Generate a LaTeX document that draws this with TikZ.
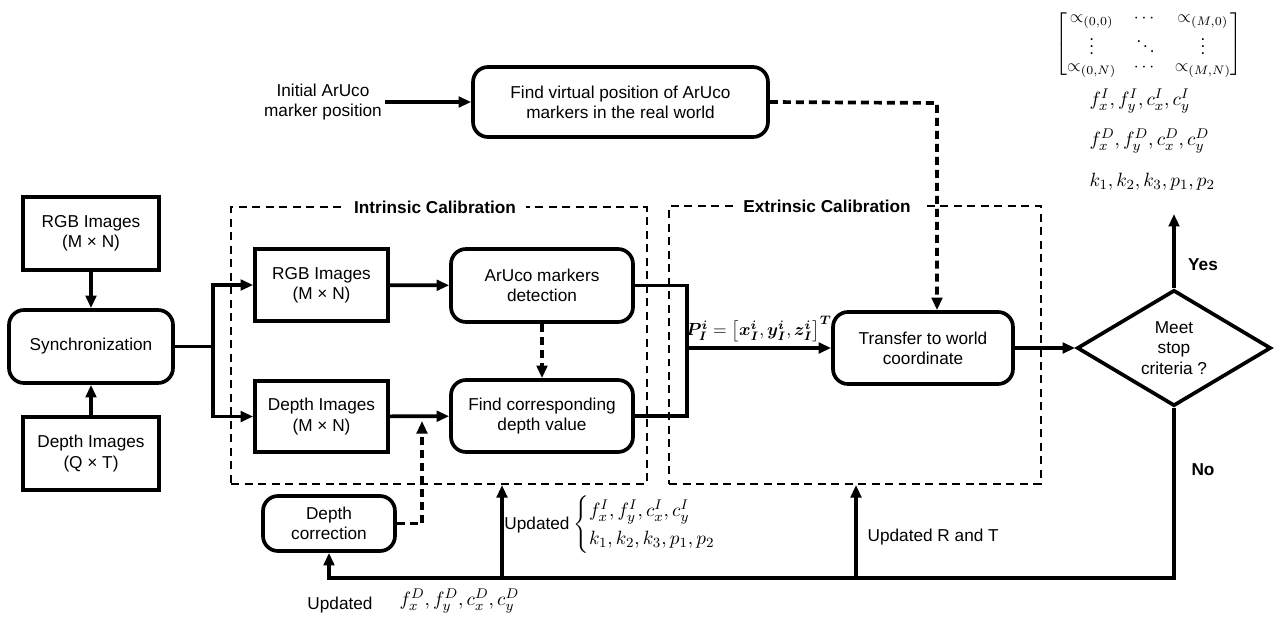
\documentclass[tikz,border=0pt]{standalone}
\usepackage[no-math]{fontspec}
\setmainfont{Liberation Sans}
\usepackage{amsmath}
\usetikzlibrary{arrows.meta,shapes.geometric}

\tikzset{
  box/.style={draw, line width=2.1pt, minimum width=2.72cm, minimum height=1.46cm},
  rbox/.style={box, rounded corners=0.3cm},
  grp/.style={draw, line width=1.2pt, dash pattern=on 1.6mm off 1.1mm},
  flow/.style={line width=2.1pt, -{Triangle[length=2.5mm,width=2.1mm]}},
  dflow/.style={flow, dash pattern=on 1.6mm off 1mm},
  mth/.style={font=\fontsize{11}{13}\selectfont},
  ttl/.style={font=\fontsize{9.8}{11.5}\selectfont\bfseries, fill=white, inner xsep=6pt}
}

\begin{document}
\begin{tikzpicture}[x=0.02cm,y=-0.02cm, line width=2.1pt,
    every node/.style={font=\fontsize{9.8}{11.5}\selectfont, align=center, inner sep=1pt}]
  \useasboundingbox (0,0) rectangle (1275,622);

  \node[grp, minimum width=8.32cm, minimum height=5.54cm] (intr) at (439,345.5) {};
  \node[grp, minimum width=7.44cm, minimum height=5.56cm] (extr) at (855,345) {};
  \node[ttl] (intrT) at (435,207) {Intrinsic Calibration};
  \node[ttl] (extrT) at (827,206) {Extrinsic Calibration};

  \node[box] (rgb) at (91,233.5) {RGB Images\\(M × N)};
  \node[rbox, minimum width=3.28cm] (sync) at (91,346.5) {Synchronization};
  \node[box] (depth) at (91,453.5) {Depth Images\\(Q × T)};
  \node[box, minimum width=2.66cm, minimum height=1.44cm] (rgbB) at (321.5,285) {RGB Images\\(M × N)};
  \node[box, minimum width=2.66cm, minimum height=1.42cm] (depthB) at (321.5,416.5) {Depth Images\\(M × N)};
  \node[rbox, minimum width=3.64cm] (detect) at (542,285.5) {ArUco markers\\detection};
  \node[rbox, minimum width=3.64cm, minimum height=1.44cm] (findd) at (542,416) {Find corresponding\\depth value};
  \node (init) at (323,102) {Initial ArUco\\marker position};
  \node[rbox, minimum width=5.9cm, minimum height=1.4cm] (virt) at (620.5,102) {Find virtual position of ArUco\\markers in the real world};
  \node[rbox, minimum width=3.6cm, minimum height=1.44cm] (transfer) at (923,348) {Transfer to world\\coordinate};
  \node[draw, diamond, aspect=1.67, minimum width=3.88cm, minimum height=2.32cm, inner sep=0pt, line width=2.1pt] (stop) at (1174,348) {Meet\\stop\\criteria ?};
  \node[rbox, minimum width=2.64cm, minimum height=1.1cm] (dcorr) at (329,523.5) {Depth\\correction};

  \coordinate (split) at (213,346.5);
  \coordinate (mrg) at (687,348);
  \coordinate (vdrop) at (937,103);
  \coordinate (dtip) at (422,421);
  \coordinate (yes) at (1174,214);
  \coordinate (fbR) at (1174,578);
  \coordinate (fbA) at (502,578);
  \coordinate (fbB) at (856,578);

  \draw[flow] (rgb) -- (sync);
  \draw[flow] (depth) -- (sync);
  \draw (sync.east) -- (split);
  \draw[flow] (split) |- (rgbB.west);
  \draw[flow] (split) |- (depthB.west);
  \draw[flow] (rgbB) -- (detect);
  \draw[dflow] (detect) -- (findd);
  \draw[flow] (depthB) -- (findd);
  \draw (detect.east) -| (mrg);
  \draw (findd.east) -| (mrg);
  \draw[flow] (mrg) -- (transfer.west);
  \draw[flow] (init) -- (virt);
  \draw[dflow] (virt.east) -- (vdrop) -- (vdrop |- transfer.north);
  \draw[flow] (transfer) -- (stop.west);
  \draw[flow] (stop.north) -- (yes);
  \draw[flow] (stop.south) -- (fbR) -| (dcorr.south);
  \draw[flow] (fbA) -- (fbA |- intr.south);
  \draw[flow] (fbB) -- (fbB |- extr.south);
  \draw[dflow] (dcorr.east) -| (dtip);

  \node[font=\fontsize{9.6}{11}\selectfont] (plbl) at (759,329) {$\boldsymbol{P_I^i} = \left[\boldsymbol{x_I^i}, \boldsymbol{y_I^i}, \boldsymbol{z_I^i}\right]^{\boldsymbol{T}}$};
  \node[font=\fontsize{9.8}{11.5}\selectfont\bfseries] (yesL) at (1203,265) {Yes};
  \node[font=\fontsize{9.8}{11.5}\selectfont\bfseries] (noL) at (1203,470) {No};
  \node (updA) at (537,525) {Updated};
  \node[mth, anchor=west] (updI) at (570,525) {$\left\{\renewcommand{\arraystretch}{1.25}\begin{array}{@{}l@{}} f_x^I, f_y^I, c_x^I, c_y^I\\ k_1, k_2, k_3, p_1, p_2\end{array}\right.$};
  \node[anchor=west] (updRT) at (864,537) {Updated R and T};
  \node (updB) at (340,605) {Updated};
  \node[mth, anchor=west] (updD) at (396,601) {$f_x^D, f_y^D, c_x^D, c_y^D$};

  \node[font=\fontsize{9.6}{11}\selectfont, inner sep=0pt] (alpha) at (1149,44) {$\renewcommand{\arraystretch}{0.85}\begin{bmatrix} \propto_{(0,0)} & \cdots & \propto_{(M,0)}\\ \vdots & \ddots & \vdots\\ \propto_{(0,N)} & \cdots & \propto_{(M,N)}\end{bmatrix}$};
  \node[mth, anchor=west] (parI) at (1086,101) {$f_x^I, f_y^I, c_x^I, c_y^I$};
  \node[mth, anchor=west] (parD) at (1086,141) {$f_x^D, f_y^D, c_x^D, c_y^D$};
  \node[mth, anchor=west] (parK) at (1086,182) {$k_1, k_2, k_3, p_1, p_2$};
\end{tikzpicture}
\end{document}
